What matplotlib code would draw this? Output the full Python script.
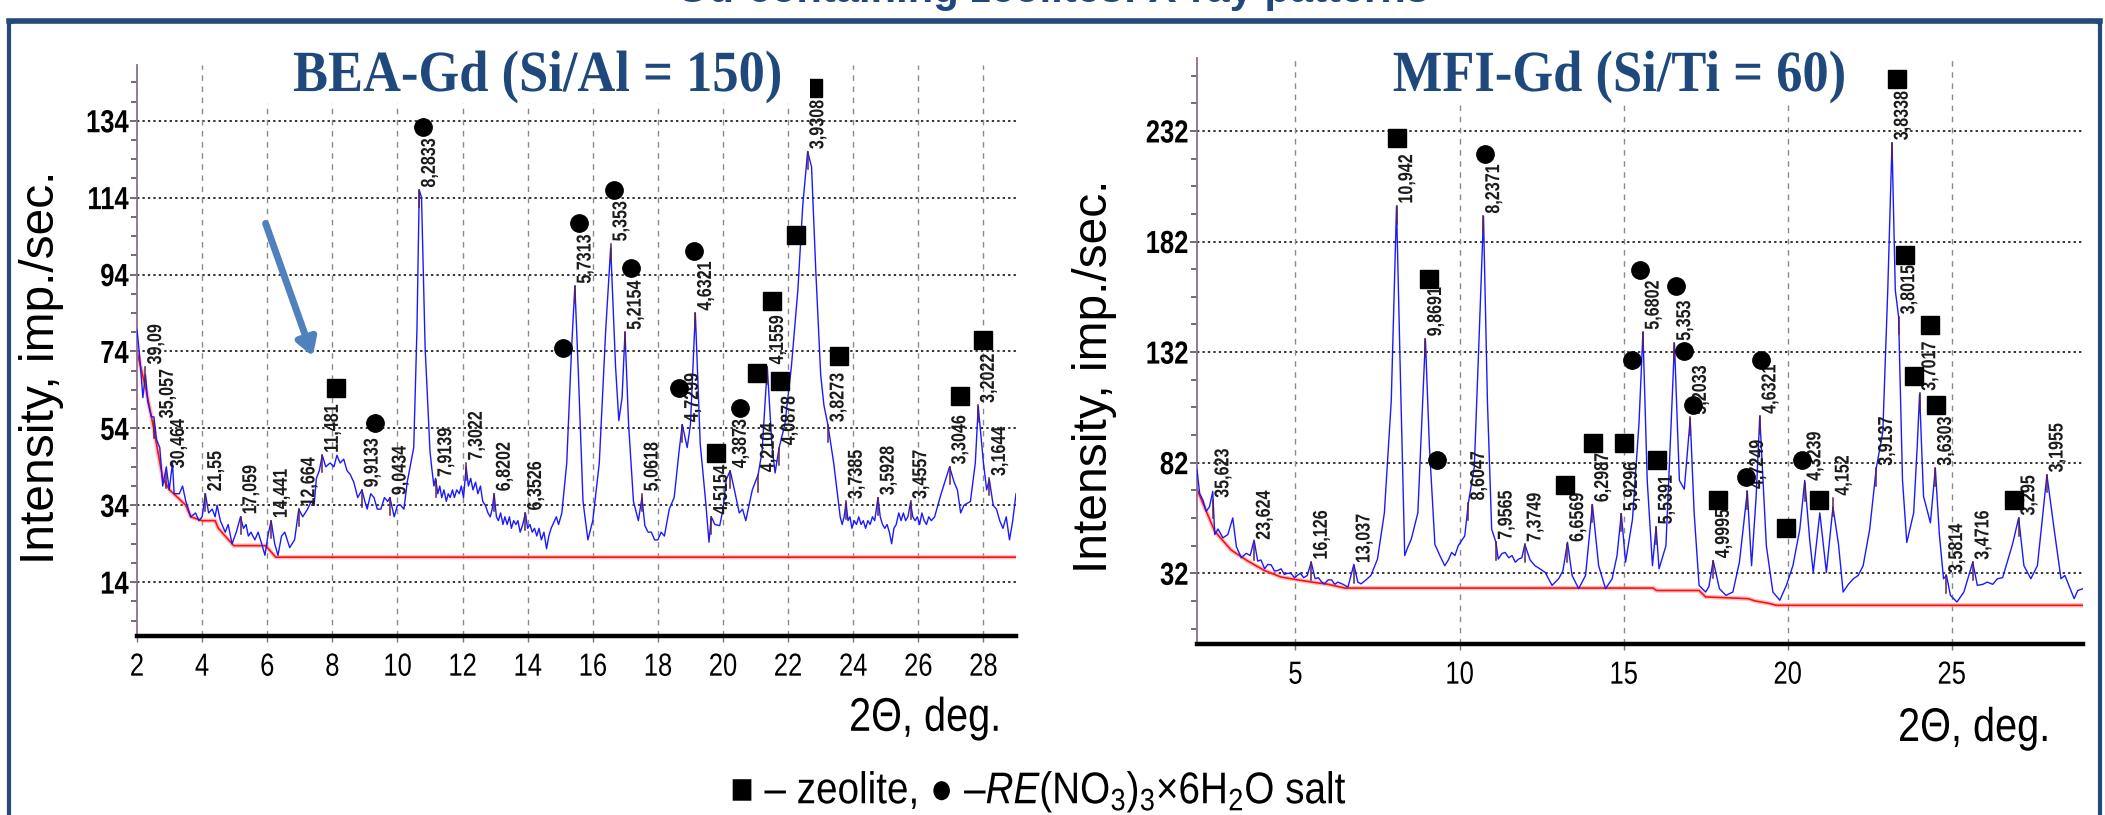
import matplotlib
matplotlib.use("Agg")
import matplotlib.pyplot as plt
from matplotlib.patches import FancyBboxPatch
from matplotlib.patheffects import AbstractPathEffect
from matplotlib.transforms import Affine2D
import matplotlib.ticker as mticker

# ---------------- data ----------------
# BEA-Gd pattern: (2theta, intensity) vertices
bea_profile = [
    (2.00, 79.7), (2.08, 73), (2.18, 62), (2.26, 68), (2.33, 61), (2.44, 57), (2.52, 57), (2.60, 51),
    (2.70, 49), (2.79, 39), (2.90, 44), (2.99, 38), (3.09, 45), (3.14, 37), (3.30, 37), (3.40, 39),
    (3.50, 35), (3.65, 31), (3.80, 32), (3.90, 30), (4.00, 31), (4.10, 37), (4.20, 32), (4.31, 33),
    (4.40, 31), (4.46, 34), (4.56, 30), (4.71, 27), (4.80, 29), (4.92, 24), (5.05, 27), (5.18, 31),
    (5.27, 28), (5.35, 29), (5.42, 26), (5.50, 27), (5.62, 25), (5.72, 27), (5.83, 24), (5.93, 21),
    (6.02, 26), (6.12, 30), (6.23, 24), (6.33, 21), (6.44, 26), (6.54, 27), (6.69, 23), (6.84, 25),
    (6.97, 33), (7.09, 31), (7.24, 33), (7.35, 35), (7.44, 34), (7.51, 41), (7.60, 43), (7.69, 47),
    (7.80, 44), (7.93, 45), (8.05, 44), (8.14, 47), (8.24, 45), (8.35, 46), (8.45, 43), (8.55, 42),
    (8.66, 40), (8.78, 36), (8.91, 38), (9.00, 35), (9.07, 33), (9.18, 37), (9.28, 36), (9.38, 33),
    (9.49, 33), (9.60, 36), (9.70, 35), (9.77, 36), (9.90, 31), (10.00, 34), (10.10, 34), (10.20, 33),
    (10.30, 40), (10.50, 49), (10.60, 80), (10.67, 116), (10.74, 114), (10.85, 75), (11.00, 48),
    (11.05, 44), (11.12, 39), (11.17, 41), (11.24, 37), (11.30, 39), (11.36, 36), (11.43, 38),
    (11.50, 35), (11.56, 37), (11.62, 36), (11.69, 38), (11.75, 36), (11.82, 38), (11.90, 37),
    (11.96, 39), (12.03, 36), (12.11, 44), (12.18, 39), (12.25, 41), (12.32, 38), (12.40, 40),
    (12.47, 37), (12.55, 39), (12.62, 35), (12.70, 34), (12.78, 32), (12.85, 31), (12.91, 33),
    (12.97, 37), (13.04, 31), (13.10, 30), (13.17, 32), (13.24, 29), (13.30, 31), (13.37, 29),
    (13.44, 31), (13.50, 28), (13.57, 30), (13.64, 29), (13.70, 30), (13.77, 27), (13.85, 29),
    (13.93, 32), (14.00, 28), (14.07, 29), (14.14, 27), (14.21, 28), (14.28, 26), (14.35, 28),
    (14.42, 25), (14.50, 27), (14.58, 22.7), (14.65, 26), (14.72, 28), (14.80, 29.5), (14.88, 31),
    (14.95, 29), (15.05, 32), (15.20, 45),
    (15.35, 75), (15.45, 91), (15.55, 70), (15.70, 35), (15.85, 25), (16.00, 30), (16.20, 45),
    (16.40, 80), (16.55, 101), (16.70, 70), (16.80, 56), (16.90, 62), (16.99, 79), (17.10, 55),
    (17.25, 35), (17.40, 30), (17.51, 36), (17.60, 28.7), (17.70, 27), (17.80, 27), (17.90, 25),
    (18.00, 25), (18.10, 27), (18.20, 26), (18.35, 33), (18.50, 36), (18.65, 48), (18.75, 55),
    (18.90, 49), (19.00, 55), (19.15, 84), (19.30, 50), (19.47, 34.7), (19.57, 24.4), (19.64, 31),
    (19.75, 29), (19.90, 28.7), (20.00, 33), (20.10, 40.7), (20.22, 43), (20.35, 38), (20.50, 32),
    (20.60, 33), (20.70, 30), (20.90, 38), (21.08, 42), (21.20, 48), (21.36, 70), (21.50, 50),
    (21.60, 42.4), (21.72, 48.8), (21.90, 55), (22.10, 70), (22.30, 90), (22.45, 112), (22.60, 126),
    (22.72, 122), (22.85, 95), (23.00, 68), (23.10, 60), (23.22, 55), (23.40, 45),
    (23.60, 31), (23.66, 29), (23.72, 31), (23.78, 34.7), (23.84, 30), (23.90, 31), (23.96, 28),
    (24.03, 30), (24.10, 29), (24.17, 31), (24.24, 29), (24.31, 30), (24.38, 28), (24.45, 30),
    (24.52, 29), (24.59, 31), (24.66, 30), (24.76, 36), (24.83, 31), (24.90, 29), (24.97, 28),
    (25.04, 29), (25.11, 27), (25.18, 24), (25.25, 28), (25.32, 29), (25.40, 32), (25.47, 30),
    (25.54, 32), (25.61, 30), (25.68, 31), (25.76, 34.7), (25.83, 31), (25.90, 30), (25.97, 31),
    (26.04, 29), (26.11, 32), (26.18, 30), (26.25, 29), (26.32, 31), (26.40, 30), (26.50, 31),
    (26.60, 34), (26.70, 37), (26.85, 41), (26.96, 44), (27.10, 40),
    (27.20, 38), (27.30, 32), (27.40, 34), (27.60, 35), (27.75, 45), (27.84, 59.7), (28.00, 45),
    (28.10, 38), (28.18, 40.7), (28.30, 34), (28.40, 33), (28.50, 30), (28.60, 28), (28.70, 31),
    (28.80, 25), (28.90, 30), (29.00, 37)]
bea_bg_x = [2.0, 2.28, 2.49, 2.79, 3.0, 3.5, 3.65, 4.0, 4.4, 4.5, 4.97, 5.95, 6.26, 29.0]
bea_bg_y = [74, 64, 55, 41, 38, 34, 31, 30, 30, 28, 23.5, 23.5, 20.5, 20.5]

bea_peak_x = [2.26, 2.52, 2.90, 4.10, 5.18, 6.12, 6.97, 7.69, 8.91, 9.77, 10.67, 11.17, 12.11,
              12.97, 13.93, 15.45, 16.55, 16.99, 17.51, 18.75, 19.15, 19.64, 20.22, 21.08, 21.36,
              21.72, 22.60, 23.22, 23.78, 24.76, 25.76, 26.96, 27.84, 28.18]
bea_peak_y = [70, 56, 43, 37, 31, 30, 33, 47, 38, 36, 116, 40.7, 45, 37, 32, 91, 102, 79, 37,
              55, 84, 31, 43, 42, 70, 49, 126, 55, 35, 36, 35, 44, 60, 41]
# where each rotated label starts (the plotting program shifts crowded ones sideways)
bea_label_x = [2.28, 2.64, 2.98, 4.12, 5.20, 6.14, 6.99, 7.71, 8.93, 9.79, 10.69, 11.19, 12.13,
               12.99, 13.95, 15.47, 16.57, 17.01, 17.53, 18.77, 19.17, 19.66, 20.24, 21.10,
               21.38, 21.74, 22.62, 23.24, 23.80, 24.78, 25.78, 26.98, 27.86, 28.20]
bea_peak_lbl = ["39,09", "35,057", "30,464", "21,55", "17,059", "14,441", "12,664", "11,481",
                "9,9133", "9,0434", "8,2833", "7,9139", "7,3022", "6,8202", "6,3526", "5,7313",
                "5,353", "5,2154", "5,0618", "4,7299", "4,6321", "4,5154", "4,3873", "4,2104",
                "4,1559", "4,0878", "3,9308", "3,8273", "3,7385", "3,5928", "3,4557", "3,3046",
                "3,2022", "3,1644"]
bea_sq_x = [8.10, 19.78, 21.03, 21.51, 21.76, 22.24, 22.76, 23.57, 27.27, 28.00]
bea_sq_y = [64.5, 47.6, 68.4, 87, 66.2, 104.3, 142.4, 72.7, 62.3, 77]
bea_ci_x = [9.32, 10.78, 15.10, 15.58, 16.66, 17.18, 18.64, 19.12, 20.51]
bea_ci_y = [55.3, 132.4, 74.9, 107.3, 116, 95.6, 64.5, 100, 59.3]
bea_yticks = [14, 34, 54, 74, 94, 114, 134]
bea_xticks = [2, 4, 6, 8, 10, 12, 14, 16, 18, 20, 22, 24, 26, 28]

# MFI-Gd pattern
mfi_profile = [
    (2.00, 79), (2.08, 68), (2.18, 65), (2.28, 60), (2.38, 62), (2.48, 69), (2.54, 49.5), (2.64, 52),
    (2.79, 48), (2.94, 49.5), (3.09, 57), (3.20, 44), (3.35, 39), (3.50, 41), (3.62, 40), (3.74, 47),
    (3.85, 37.5), (3.95, 38), (4.06, 34), (4.16, 36), (4.26, 35.8), (4.36, 33), (4.46, 33.2),
    (4.56, 34), (4.66, 31.5), (4.77, 32), (4.87, 31.8), (4.97, 30), (5.06, 31), (5.15, 32),
    (5.25, 30), (5.36, 31), (5.48, 37), (5.60, 29.5), (5.70, 30), (5.80, 28), (5.88, 27.2),
    (6.00, 29), (6.10, 29), (6.20, 27), (6.29, 28), (6.45, 27), (6.60, 25.7), (6.78, 36), (6.90, 28),
    (7.00, 27.2), (7.15, 29), (7.30, 31), (7.50, 38.4), (7.71, 59.3), (7.92, 110), (8.08, 198),
    (8.20, 120), (8.33, 40), (8.43, 44), (8.53, 47.4), (8.73, 59.3), (8.85, 100), (8.96, 138),
    (9.08, 90), (9.25, 45), (9.40, 40), (9.55, 35.4), (9.66, 38), (9.76, 41.4), (9.86, 40),
    (9.96, 44.4), (10.16, 48.9), (10.27, 63.8), (10.45, 80), (10.60, 140), (10.73, 193.5),
    (10.85, 110), (10.98, 51.9), (11.11, 46), (11.18, 38.4), (11.30, 41), (11.39, 41.4), (11.50, 39),
    (11.60, 40), (11.70, 37), (11.80, 38.4), (11.90, 39), (11.99, 45), (12.15, 38), (12.30, 35.4),
    (12.45, 34), (12.61, 32.4), (12.82, 26.5), (13.02, 29.5), (13.15, 33), (13.29, 46), (13.43, 31),
    (13.63, 25), (13.84, 31), (14.05, 63), (14.24, 35.4), (14.45, 25), (14.65, 29.5), (14.80, 40),
    (14.93, 59), (15.06, 37), (15.27, 56.3), (15.47, 100), (15.59, 141), (15.72, 74), (15.88, 35.4),
    (15.99, 53), (16.08, 34), (16.29, 44.4), (16.45, 100), (16.55, 136), (16.70, 74), (16.85, 70),
    (17.03, 102), (17.15, 59.3), (17.30, 26.5), (17.50, 23.5), (17.60, 26), (17.73, 37.7),
    (17.92, 25), (18.12, 22), (18.33, 23.5), (18.53, 37), (18.77, 69), (18.90, 35.4), (19.04, 66.8),
    (19.15, 103), (19.35, 44.4), (19.55, 23.5), (19.76, 19.8), (19.96, 26.5), (20.16, 35.4),
    (20.37, 51.9), (20.52, 74), (20.67, 47.4), (20.78, 32.4), (20.98, 59.3), (21.18, 32.4),
    (21.38, 62), (21.55, 45), (21.69, 23.5), (21.85, 27), (22.00, 29.5), (22.15, 31), (22.30, 35.4),
    (22.50, 51.9), (22.70, 79.5), (22.90, 96), (23.05, 160), (23.18, 226.7), (23.28, 160),
    (23.38, 148), (23.50, 74), (23.63, 45.9), (23.84, 59.3), (23.95, 90), (24.02, 113), (24.14, 66.8),
    (24.35, 54.8), (24.50, 79.5), (24.62, 50), (24.75, 29.5), (24.84, 31), (24.96, 22), (25.16, 19),
    (25.37, 23.5), (25.50, 30), (25.64, 37), (25.78, 26.5), (25.95, 27), (26.08, 28), (26.25, 27),
    (26.39, 29.5), (26.55, 30), (26.69, 37), (26.85, 45), (27.04, 57), (27.20, 35.4), (27.41, 29.5),
    (27.61, 35.4), (27.75, 55), (27.90, 76.5), (28.12, 51.9), (28.33, 29.5), (28.45, 31), (28.53, 28),
    (28.73, 20.5), (28.84, 24.2), (29.00, 25)]
mfi_bg_x = [2.0, 2.54, 3.04, 3.55, 4.06, 4.56, 5.07, 5.5, 6.0, 6.5, 15.9, 16.0, 17.3, 17.5,
            18.8, 19.0, 19.45, 19.65, 29.0]
mfi_bg_y = [70, 51, 42.5, 37.5, 33.2, 30.3, 29, 28, 27, 25.3, 25.3, 24.2, 24.2, 21.3,
            20.5, 19.5, 18.3, 17.5, 17.5]

mfi_peak_x = [2.48, 3.74, 5.48, 6.78, 8.08, 8.96, 10.27, 10.73, 11.11, 11.99, 13.29, 14.05,
              14.93, 15.59, 15.99, 16.55, 17.03, 17.73, 18.77, 19.15, 20.52, 21.38, 22.70,
              23.18, 23.38, 24.02, 24.50, 24.84, 25.64, 27.04, 27.90]
mfi_peak_y = [65, 46, 37, 35.4, 198, 138, 63.8, 193.5, 46, 45, 45, 63, 59, 141, 53, 136,
              102.6, 37.7, 69, 103, 72.7, 66, 79.5, 226.7, 148, 113.4, 79.5, 31, 37, 57, 76.5]
mfi_label_x = [2.50, 3.76, 5.50, 6.80, 8.10, 8.98, 10.29, 10.75, 11.13, 12.01, 13.31, 14.07,
               14.95, 15.61, 16.01, 16.57, 17.05, 17.75, 18.79, 19.17, 20.54, 21.40, 22.72,
               23.20, 23.40, 24.04, 24.52, 24.86, 25.66, 27.06, 27.92]
mfi_peak_lbl = ["35,623", "23,624", "16,126", "13,037", "10,942", "9,8691", "8,6047", "8,2371",
                "7,9565", "7,3749", "6,6569", "6,2987", "5,9296", "5,6802", "5,5391", "5,353",
                "5,2033", "4,9995", "4,7249", "4,6321", "4,3239", "4,152", "3,9137", "3,8338",
                "3,8015", "3,7017", "3,6303", "3,5814", "3,4716", "3,295", "3,1955"]
mfi_sq_x = [8.08, 9.08, 13.22, 14.08, 15.00, 16.02, 17.88, 19.96, 20.94, 23.33, 23.59, 24.35,
            23.84, 24.51, 26.90]
mfi_sq_y = [229, 165, 72, 90.7, 90.7, 83.2, 65.3, 52.6, 65.3, 255.4, 176, 144.4, 121, 108, 65.3]
mfi_ci_x = [9.31, 10.78, 15.27, 15.51, 16.59, 16.84, 17.10, 18.73, 19.18, 20.43]
mfi_ci_y = [83.2, 221.4, 128.5, 169.3, 161.8, 132.3, 108, 75.7, 128.5, 83.2]
mfi_yticks = [32, 82, 132, 182, 232]
mfi_xticks = [5, 10, 15, 20, 25]

# ---------------- style ----------------
SANS = ["Liberation Sans", "DejaVu Sans"]
SERIF = ["Liberation Serif", "DejaVu Serif"]
plt.rcParams["font.family"] = SANS
plt.rcParams["mathtext.fontset"] = "custom"
plt.rcParams["mathtext.rm"] = "Liberation Sans"
plt.rcParams["mathtext.it"] = "Liberation Sans:italic"


class Squeeze(AbstractPathEffect):
    """Draw text glyphs horizontally condensed (like a 'Narrow' typeface)."""

    def __init__(self, sx=0.82, anchor="center"):
        super().__init__()
        self.sx = sx
        self.anchor = anchor

    def draw_path(self, renderer, gc, tpath, affine, rgbFace=None):
        ext = tpath.get_extents()
        if self.anchor == "left":
            cx = ext.x0
        elif self.anchor == "right":
            cx = ext.x1
        else:
            cx = 0.5 * (ext.x0 + ext.x1)
        tr = Affine2D().translate(-cx, 0).scale(self.sx, 1.0).translate(cx, 0) + affine
        renderer.draw_path(gc, tpath, tr, rgbFace)


W, H = 2105, 815
fig = plt.figure(figsize=(W / 100, H / 100), dpi=100)
fig.patch.set_facecolor("white")


def fx(px):
    return px / W


def fy(py):
    return 1 - py / H


DARKBLUE = "#1F497D"

# outer frame
frame = FancyBboxPatch((fx(9), fy(835)), fx(2100 - 9), (835 - 21) / H,
                       boxstyle="round,pad=0,rounding_size=0.004",
                       transform=fig.transFigure, facecolor="none",
                       edgecolor="#24497A", linewidth=3.0, zorder=0)
fig.patches.append(frame)
fig.add_artist(plt.Line2D([fx(9), fx(2100)], [fy(20.5), fy(20.5)], transform=fig.transFigure,
                          color="#24497A", linewidth=4.0))
# slide title, cut by the top edge as in the source (only the bottom of the glyphs shows)
fig.text(0.5, fy(2), "Gd-containing zeolites: X-ray patterns", ha="center", va="baseline",
         fontsize=30, color=DARKBLUE, fontweight="bold", family=SANS)


def panel(rect, profile, bgx, bgy, px_, py_, lx_, plbl, sqx, sqy, cix, ciy, yticks, xticks,
          ylim, minor, title, title_x, title_y, gridx, xlab_x):
    x = [p[0] for p in profile]
    y = [p[1] for p in profile]
    ax = fig.add_axes(rect)
    ax.set_xlim(2, 29)
    ax.set_ylim(*ylim)
    ax.plot(bgx, bgy, color="#ff9090", lw=3.2, alpha=0.55, zorder=2)
    ax.plot(bgx, bgy, color="#ff1010", lw=1.2, zorder=2.1)
    ax.plot(x, y, color="#1a1aff", lw=1.0, zorder=3)
    span = ylim[1] - ylim[0]
    for xx, yy, lx, tt in zip(px_, py_, lx_, plbl):
        ax.plot([xx, xx], [yy - 0.03 * span, yy], color="#5b2150", lw=1.1, zorder=3.5)
        ax.text(lx, yy + 0.004 * span, tt, rotation=90, ha="left", va="bottom",
                fontsize=14.5, fontweight="bold", color="#1c1c1c", zorder=4,
                path_effects=[Squeeze(0.8, "left")])
    ax.plot(sqx, sqy, ls="none", marker="s", ms=13.5, color="black", zorder=5)
    ax.plot(cix, ciy, ls="none", marker="o", ms=12.5, color="black", zorder=5)
    ax.set_yticks(yticks)
    ax.yaxis.set_minor_locator(mticker.MultipleLocator(minor, offset=yticks[0] % minor))
    ax.set_xticks(xticks)
    for t in yticks:
        ax.axhline(t, color="#333333", lw=1.4, ls=(0, (1.2, 1.6)), zorder=1)
    for t in gridx:
        ax.axvline(t, color="#8a8a8a", lw=1.0, ls=(0, (4, 4)), zorder=1)
    for s in ("top", "right"):
        ax.spines[s].set_visible(False)
    ax.spines["left"].set_color("#8c6d8c")
    ax.spines["left"].set_linewidth(1.3)
    ax.spines["bottom"].set_color("black")
    ax.spines["bottom"].set_linewidth(3.2)
    ax.tick_params(axis="y", which="major", length=5, width=1.2, color="#555555", pad=1,
                   labelsize=23)
    ax.tick_params(axis="y", which="minor", length=4, width=1.2, color="#555555")
    ax.tick_params(axis="x", which="major", length=4, width=1, color="#777777", pad=8,
                   labelsize=23)
    for lab in ax.get_yticklabels():
        lab.set_fontweight("bold")
        lab.set_path_effects([Squeeze(0.8, "right")])
    for lab in ax.get_xticklabels():
        lab.set_path_effects([Squeeze(0.8, "center")])
    ax.set_ylabel("Intensity, imp./sec.", fontsize=34.5)
    ax.text(xlab_x, -0.145, "2\u0398, deg.", transform=ax.transAxes, ha="right", va="center",
            fontsize=34, path_effects=[Squeeze(0.84, "right")])
    ax.text(title_x, title_y, title, transform=ax.transAxes, ha="center", va="baseline",
            fontsize=42, fontweight="bold", color=DARKBLUE, family=SERIF, zorder=6,
            path_effects=[Squeeze(0.9, "center")],
            bbox=dict(facecolor="white", edgecolor="none", pad=0))
    return ax


# left panel: x 137..1016 px, y 65..636 px
axL = panel([fx(137), fy(636), (1016 - 137) / W, (636 - 65) / H], bea_profile, bea_bg_x,
            bea_bg_y, bea_peak_x, bea_peak_y, bea_label_x, bea_peak_lbl, bea_sq_x, bea_sq_y,
            bea_ci_x, bea_ci_y, bea_yticks, bea_xticks, (0, 148.5), 5, "BEA-Gd (Si/Al = 150)",
            (538 - 137) / 879, (636 - 91) / 571, bea_xticks[1:], (1002 - 137) / 879)
axL.yaxis.set_label_coords((64 - 137) / 879, 0.47)
axL.annotate("", xy=(7.4, 72.7), xytext=(5.95, 107.3),
             arrowprops=dict(arrowstyle="-|>,head_width=0.6,head_length=1.0",
                             color="#4F81BD", lw=5, shrinkA=0, shrinkB=0), zorder=6)

# right panel: x 1197..2083 px, y 58..644 px
axR = panel([fx(1197), fy(644), (2083 - 1197) / W, (644 - 58) / H], mfi_profile, mfi_bg_x,
            mfi_bg_y, mfi_peak_x, mfi_peak_y, mfi_label_x, mfi_peak_lbl, mfi_sq_x, mfi_sq_y,
            mfi_ci_x, mfi_ci_y, mfi_yticks, mfi_xticks, (0, 265), 12.5, "MFI-Gd (Si/Ti = 60)",
            (1620 - 1197) / 886, (644 - 91) / 586, mfi_xticks, (2051 - 1197) / 886)
axR.yaxis.set_label_coords((1117 - 1197) / 886, 0.457)

fig.text(fx(1039), fy(792),
         "\u25a0 \u2013 zeolite, \u25cf \u2013$\\it{RE}$(NO$_3$)$_3$\u00d7$\\it{6}$H$_2$O salt",
         ha="center", va="center", fontsize=32, family=SANS,
         path_effects=[Squeeze(0.87, "center")])

fig.savefig("out.png", dpi=100, facecolor="white")
